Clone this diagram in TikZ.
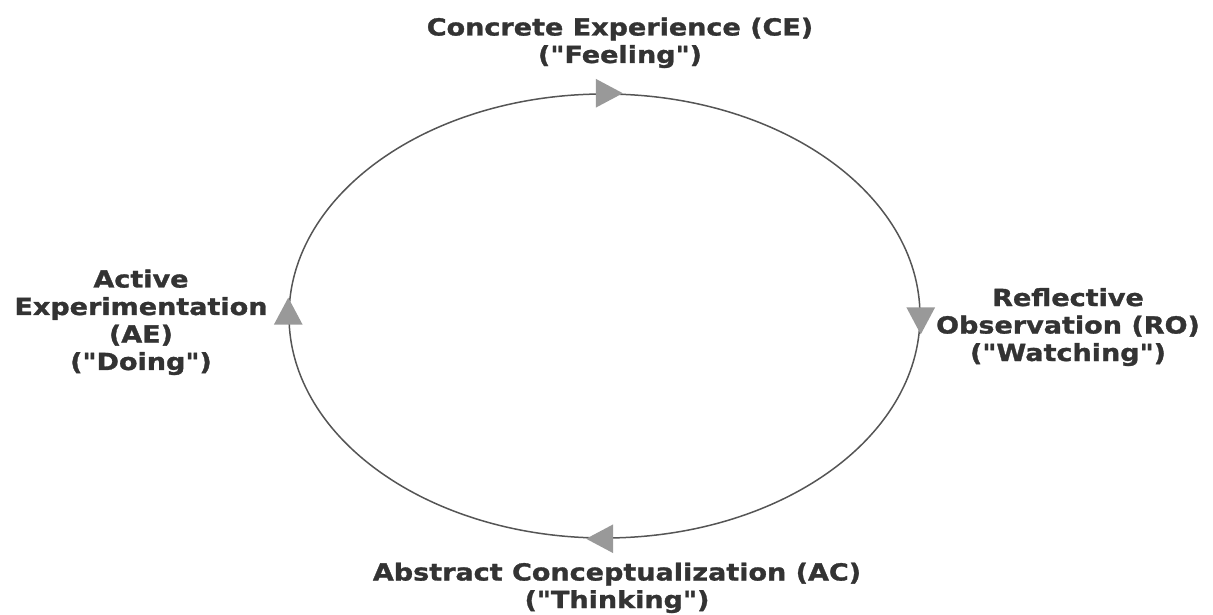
\documentclass[tikz,border=0pt]{standalone}
\usepackage{fontspec}
\newfontfamily\lblfont{DejaVu Sans}[BoldFeatures={FakeStretch=1.15,FakeBold=1.3}]
\usetikzlibrary{shapes.geometric}
\definecolor{labelgray}{HTML}{333333}
\definecolor{ringgray}{HTML}{555555}
\definecolor{tipgray}{HTML}{999999}
\newcommand{\dq}{\char34\relax}
\begin{document}
\begin{tikzpicture}[x=1pt,y=1pt,
  label/.style={text=labelgray, align=center, inner sep=0pt, anchor=base,
    font=\lblfont\bfseries\fontsize{23.5}{27.5}\selectfont},
  tip/.style={isosceles triangle, isosceles triangle apex angle=56,
    fill=tipgray, draw=none, minimum height=27pt, minimum width=26pt,
    inner sep=0pt, anchor=center}]
\useasboundingbox (0,0) rectangle (1213,614);
% the cycle itself
\node[draw=ringgray, line width=1.5pt, ellipse, minimum width=631pt,
  minimum height=444pt, inner sep=0pt] (ring) at (604.5,298) {};
% direction marks on the cycle
\node[tip, shape border rotate=0]   (tCE) at (ring.north) {};
\node[tip, shape border rotate=-90] (tRO) at (ring.east) {};
\node[tip, shape border rotate=180] (tAC) at (ring.south) {};
\node[tip, shape border rotate=90]  (tAE) at (ring.west) {};
% stage labels (placed by the baseline of their last line)
\node[label] (CE) at (620,551) {Concrete Experience (CE)\\(\dq Feeling\dq)};
\node[label] (RO) at (1068,253) {Reflective\\Observation (RO)\\(\dq Watching\dq)};
\node[label] (AE) at (141,244) {Active\\Experimentation\\(AE)\\(\dq Doing\dq)};
\node[label] (AC) at (617,6) {Abstract Conceptualization (AC)\\(\dq Thinking\dq)};
\end{tikzpicture}
\end{document}
